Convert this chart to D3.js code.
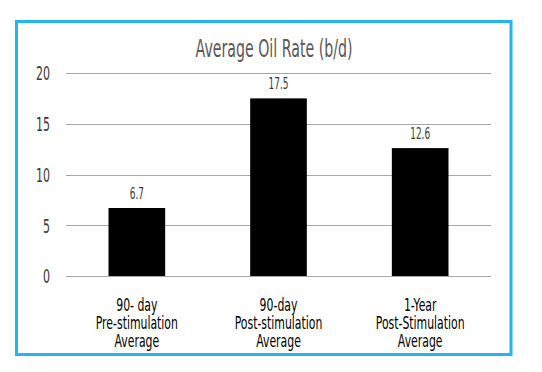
<!DOCTYPE html>
<html>
<head>
<meta charset="utf-8">
<script src="https://cdn.jsdelivr.net/npm/d3@7"></script>
<style>
  body { margin: 0; background: #fff; }
  text { font-family: "DejaVu Sans", sans-serif; }
</style>
</head>
<body>
<div id="chart"></div>
<script>
// chart data
var categories = ["90- day|Pre-stimulation|Average", "90-day|Post-stimulation|Average", "1-Year|Post-Stimulation|Average"];
var values = [6.7, 17.5, 12.6];
var yTicks = [0, 5, 10, 15, 20];
var title = "Average Oil Rate (b/d)";

var W = 542, H = 372;
var svg = d3.select("#chart").append("svg")
    .attr("width", W)
    .attr("height", H);

// narrow look: squeeze the text horizontally around its anchor
function squeeze(sel, x, y, sx) {
  sel.attr("x", 0).attr("y", 0)
     .attr("transform", "translate(" + x + "," + y + ") scale(" + sx + ",1)");
}

// blue frame
svg.append("rect")
    .attr("x", 16.5).attr("y", 21.5)
    .attr("width", 494.5).attr("height", 333)
    .attr("fill", "#fff")
    .attr("stroke", "#22b5ee")
    .attr("stroke-width", 3);

var x = d3.scaleBand()
    .domain(categories)
    .range([66, 491])
    .paddingInner(0.6)
    .paddingOuter(0.3);

var y = d3.scaleLinear()
    .domain([0, 20])
    .range([276, 73]);

// gridlines
svg.append("g")
  .selectAll("line")
  .data(yTicks)
  .enter().append("line")
    .attr("x1", 66).attr("x2", 491)
    .attr("y1", function(d) { return Math.round(y(d)) + 0.5; })
    .attr("y2", function(d) { return Math.round(y(d)) + 0.5; })
    .attr("stroke", "#a6a6a6")
    .attr("stroke-width", 1);

// y axis labels
var yAxis = svg.append("g")
    .attr("transform", "translate(50,0)")
    .call(d3.axisLeft(y).tickValues(yTicks).tickSize(0).tickPadding(0));
yAxis.select(".domain").remove();
yAxis.selectAll("text")
    .attr("font-size", 19)
    .attr("fill", "#3a3a3a")
    .attr("dy", "0.36em")
    .attr("transform", "scale(0.58,1)")
    .style("font-family", "'DejaVu Sans', sans-serif");

// bars
svg.selectAll("rect.bar")
    .data(values)
    .enter().append("rect")
      .attr("class", "bar")
      .attr("x", function(d, i) { return x(categories[i]); })
      .attr("y", function(d) { return y(d); })
      .attr("width", x.bandwidth())
      .attr("height", function(d) { return y(0) - y(d); })
      .attr("fill", "#000");

// value labels
svg.selectAll("text.val")
    .data(values)
    .enter().append("text")
      .attr("class", "val")
      .attr("text-anchor", "middle")
      .attr("font-size", 16)
      .attr("fill", "#3a3a3a")
      .text(function(d) { return d.toFixed(1); })
      .each(function(d, i) {
        squeeze(d3.select(this), x(categories[i]) + x.bandwidth() / 2, y(d) - 9, 0.56);
      });

// category labels
var xAxis = svg.append("g");
categories.forEach(function(c) {
  var cx = x(c) + x.bandwidth() / 2;
  c.split("|").forEach(function(line, j) {
    var t = xAxis.append("text")
        .attr("text-anchor", "middle")
        .attr("font-size", 17)
        .attr("fill", "#000")
        .text(line);
    squeeze(t, cx, 311 + j * 18, 0.64);
  });
});

// title
var tt = svg.append("text")
    .attr("text-anchor", "middle")
    .attr("font-size", 24)
    .attr("fill", "#595959")
    .text(title);
squeeze(tt, 274, 57, 0.59);
</script>
</body>
</html>
